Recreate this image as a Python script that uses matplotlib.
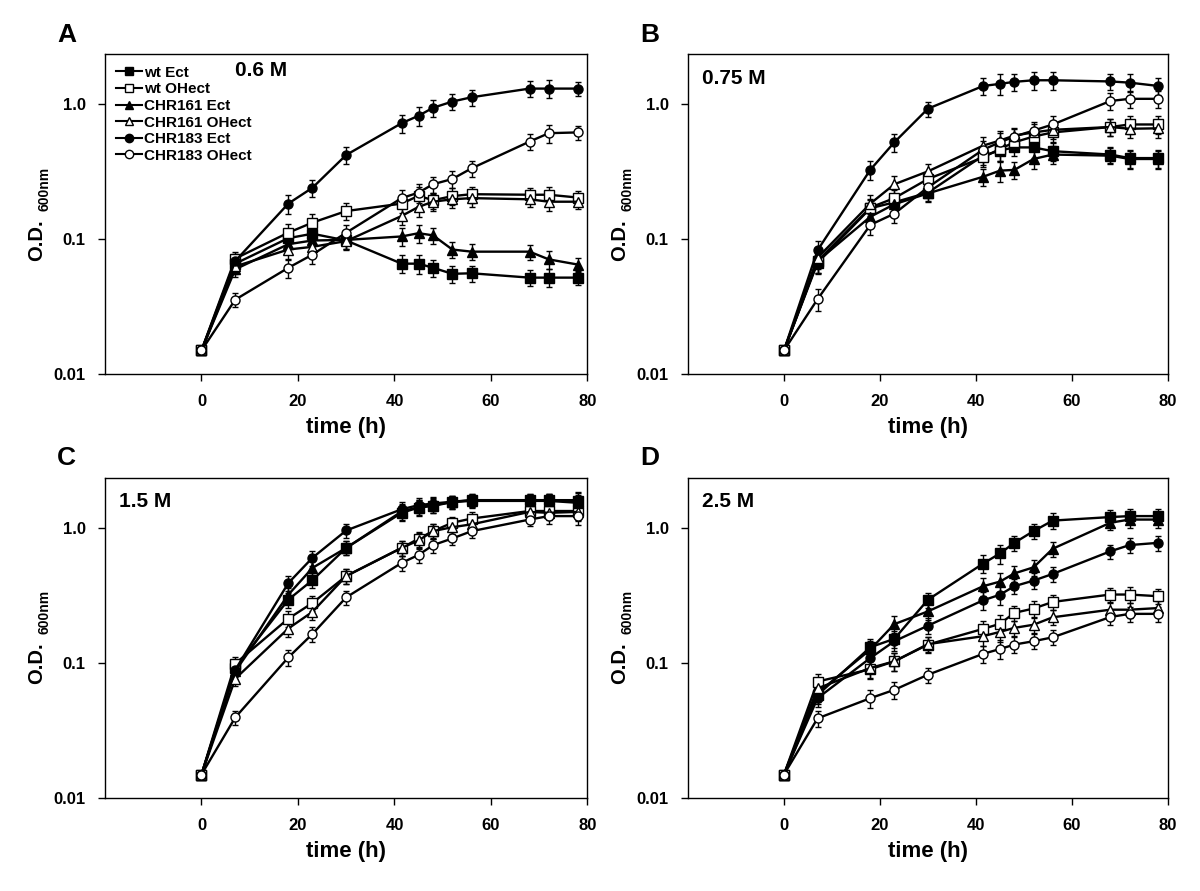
import numpy as np
import matplotlib; matplotlib.use("Agg")
import matplotlib.pyplot as plt
from matplotlib.lines import Line2D

plt.rcParams["font.family"] = ["Liberation Sans", "DejaVu Sans"]
plt.rcParams["font.weight"] = "bold"

t = [0, 7, 18, 23, 30, 41.5, 45, 48, 52, 56, 68, 72, 78]
labels = ["wt Ect", "wt OHect", "CHR161 Ect", "CHR161 OHect", "CHR183 Ect", "CHR183 OHect"]

# A: 0.6 M
a_wt_ect = [0.015, 0.066, 0.102, 0.110, 0.098, 0.066, 0.066, 0.0615, 0.0555, 0.056, 0.052, 0.052, 0.052]
a_wt_ohect = [0.015, 0.072, 0.112, 0.133, 0.162, 0.184, 0.21, 0.195, 0.209, 0.216, 0.214, 0.214, 0.204]
a_161_ect = [0.015, 0.060, 0.092, 0.098, 0.099, 0.105, 0.111, 0.107, 0.084, 0.081, 0.081, 0.071, 0.065]
a_161_ohect = [0.015, 0.063, 0.084, 0.088, 0.097, 0.149, 0.174, 0.19, 0.198, 0.202, 0.198, 0.19, 0.19]
a_183_ect = [0.015, 0.069, 0.184, 0.241, 0.422, 0.726, 0.824, 0.944, 1.05, 1.13, 1.31, 1.31, 1.31]
a_183_ohect = [0.015, 0.0357, 0.0615, 0.077, 0.112, 0.202, 0.222, 0.256, 0.28, 0.336, 0.53, 0.612, 0.62]
a_err = [0, 0.12, 0.16, 0.15, 0.14, 0.15, 0.16, 0.14, 0.14, 0.14, 0.13, 0.15, 0.12]

# B: 0.75 M
b_wt_ect = [0.015, 0.067, 0.17, 0.188, 0.222, 0.417, 0.455, 0.48, 0.48, 0.45, 0.425, 0.40, 0.40]
b_wt_ohect = [0.015, 0.069, 0.172, 0.202, 0.28, 0.405, 0.468, 0.524, 0.578, 0.62, 0.68, 0.71, 0.71]
b_161_ect = [0.015, 0.069, 0.147, 0.182, 0.219, 0.291, 0.323, 0.327, 0.394, 0.425, 0.417, 0.394, 0.394]
b_161_ohect = [0.015, 0.073, 0.184, 0.256, 0.319, 0.495, 0.54, 0.588, 0.62, 0.648, 0.68, 0.66, 0.665]
b_183_ect = [0.015, 0.083, 0.328, 0.524, 0.93, 1.37, 1.42, 1.47, 1.51, 1.51, 1.48, 1.45, 1.37]
b_183_ohect = [0.015, 0.036, 0.128, 0.155, 0.243, 0.462, 0.524, 0.578, 0.64, 0.71, 1.06, 1.10, 1.10]
b_err = [0, 0.18, 0.16, 0.15, 0.13, 0.15, 0.18, 0.14, 0.16, 0.15, 0.14, 0.15, 0.15]

# C: 1.5 M
c_wt_ect = [0.015, 0.092, 0.294, 0.41, 0.71, 1.29, 1.41, 1.45, 1.55, 1.6, 1.6, 1.6, 1.58]
c_wt_ohect = [0.015, 0.099, 0.213, 0.278, 0.44, 0.71, 0.83, 0.945, 1.09, 1.17, 1.33, 1.33, 1.33]
c_161_ect = [0.015, 0.087, 0.32, 0.505, 0.71, 1.32, 1.42, 1.47, 1.55, 1.58, 1.58, 1.58, 1.53]
c_161_ohect = [0.015, 0.0766, 0.18, 0.239, 0.44, 0.71, 0.806, 0.945, 1.01, 1.06, 1.31, 1.29, 1.31]
c_183_ect = [0.015, 0.089, 0.39, 0.6, 0.955, 1.37, 1.47, 1.51, 1.56, 1.6, 1.6, 1.6, 1.6]
c_183_ohect = [0.015, 0.0396, 0.110, 0.164, 0.306, 0.55, 0.63, 0.744, 0.834, 0.944, 1.15, 1.22, 1.22]
c_err = [0, 0.12, 0.13, 0.13, 0.12, 0.13, 0.13, 0.12, 0.11, 0.11, 0.11, 0.12, 0.14]

# D: 2.5 M
d_wt_ect = [0.015, 0.058, 0.131, 0.151, 0.294, 0.544, 0.646, 0.774, 0.945, 1.13, 1.2, 1.22, 1.22]
d_wt_ohect = [0.015, 0.073, 0.090, 0.103, 0.137, 0.179, 0.195, 0.235, 0.253, 0.283, 0.321, 0.321, 0.312]
d_161_ect = [0.015, 0.06, 0.126, 0.194, 0.241, 0.37, 0.40, 0.46, 0.51, 0.70, 1.09, 1.15, 1.15]
d_161_ohect = [0.015, 0.065, 0.092, 0.103, 0.138, 0.158, 0.17, 0.182, 0.192, 0.218, 0.248, 0.248, 0.255]
d_183_ect = [0.015, 0.055, 0.109, 0.145, 0.189, 0.291, 0.32, 0.37, 0.407, 0.456, 0.67, 0.745, 0.774]
d_183_ohect = [0.015, 0.039, 0.055, 0.0634, 0.082, 0.117, 0.127, 0.137, 0.145, 0.155, 0.219, 0.231, 0.231]
d_err = [0, 0.14, 0.15, 0.15, 0.13, 0.15, 0.16, 0.13, 0.13, 0.13, 0.12, 0.13, 0.13]

panels = [
    ("A", "0.6 M", [a_wt_ect, a_wt_ohect, a_161_ect, a_161_ohect, a_183_ect, a_183_ohect], a_err),
    ("B", "0.75 M", [b_wt_ect, b_wt_ohect, b_161_ect, b_161_ohect, b_183_ect, b_183_ohect], b_err),
    ("C", "1.5 M", [c_wt_ect, c_wt_ohect, c_161_ect, c_161_ohect, c_183_ect, c_183_ohect], c_err),
    ("D", "2.5 M", [d_wt_ect, d_wt_ohect, d_161_ect, d_161_ohect, d_183_ect, d_183_ohect], d_err),
]
markers = ["s", "s", "^", "^", "o", "o"]
faces = ["black", "white", "black", "white", "black", "white"]

fig = plt.figure(figsize=(12, 8.91), dpi=100)
# axes rectangles in figure fractions (left, bottom, width, height)
rects = [(0.0875, 0.580, 0.402, 0.359), (0.5733, 0.580, 0.40, 0.359),
         (0.0875, 0.104, 0.402, 0.360), (0.5733, 0.104, 0.40, 0.360)]

for (letter, cond, series, err), r in zip(panels, rects):
    ax = fig.add_axes(r)
    rel = np.array(err)
    for y, m, fc in zip(series, markers, faces):
        y = np.array(y)
        ax.errorbar(t, y, yerr=y * rel, color="black", lw=1.7, marker=m, ms=6.5,
                    mfc=fc, mec="black", mew=1.0, elinewidth=1.0, capsize=2.5,
                    capthick=1.0)
    ax.set_yscale("log")
    ax.set_xlim(-20, 80)
    ax.set_ylim(0.01, 2.35)
    ax.set_xticks([0, 20, 40, 60, 80])
    ax.set_yticks([0.01, 0.1, 1.0])
    ax.set_yticklabels(["0.01", "0.1", "1.0"])
    ax.minorticks_off()
    ax.tick_params(labelsize=12, direction="out", length=5, width=1, pad=9)
    for lb in ax.get_xticklabels() + ax.get_yticklabels():
        lb.set_fontweight("bold")
    for s in ax.spines.values():
        s.set_linewidth(1.0)
    ax.set_xlabel("time (h)", fontsize=16, fontweight="bold", labelpad=6)
    ax.text(-0.142, 0.42, "O.D.", rotation=90, transform=ax.transAxes,
            ha="center", va="center", fontsize=14.5, fontweight="bold")
    ax.text(-0.126, 0.58, "600nm", rotation=90, transform=ax.transAxes,
            ha="center", va="center", fontsize=10, fontweight="bold")
    ax.text(-0.08, 1.06, letter, transform=ax.transAxes, ha="center",
            va="center", fontsize=19, fontweight="bold")
    if letter == "A":
        ax.text(0.27, 0.95, cond, transform=ax.transAxes, ha="left",
                va="center", fontsize=15, fontweight="bold")
        handles = [Line2D([], [], color="black", lw=1.5, marker=m, ms=6,
                          mfc=fc, mec="black", mew=1.0)
                   for m, fc in zip(markers, faces)]
        ax.legend(handles, labels, loc="upper left", bbox_to_anchor=(0.0, 1.0),
                  frameon=False, prop={"size": 11, "weight": "bold"},
                  handlelength=1.7, handletextpad=0.1, labelspacing=0.17,
                  borderaxespad=0.35)
    else:
        ax.text(0.03, 0.925, cond, transform=ax.transAxes, ha="left",
                va="center", fontsize=15, fontweight="bold")

fig.savefig("out.png", dpi=100)
